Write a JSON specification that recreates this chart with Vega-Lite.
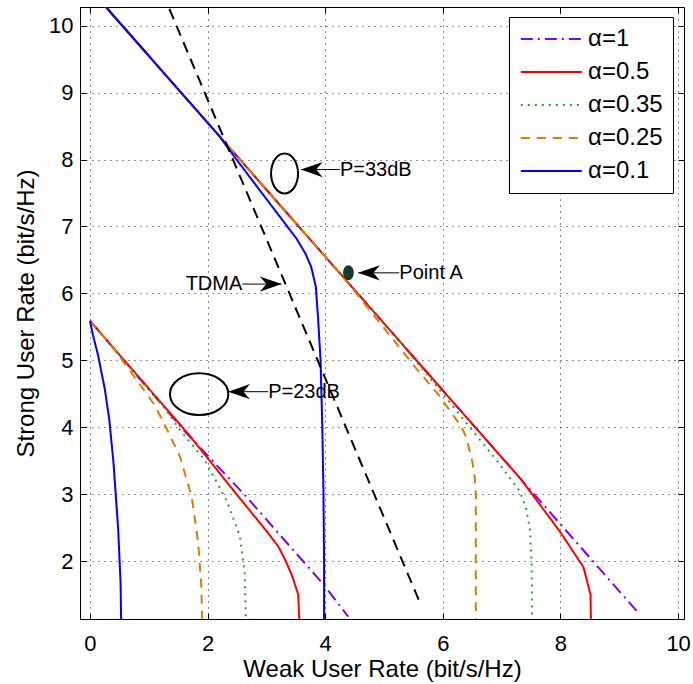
{
  "$schema": "https://vega.github.io/schema/vega-lite/v6.json",
  "width": 604,
  "height": 612,
  "autosize": {"type": "none"},
  "padding": {"left": 80, "top": 7, "right": 9, "bottom": 65},
  "background": "white",
  "config": {
    "view": {"stroke": "black", "strokeWidth": 1},
    "font": "Liberation Sans",
    "axis": {
      "labelFont": "Liberation Sans",
      "titleFont": "Liberation Sans",
      "labelFontSize": 22,
      "titleFontSize": 24,
      "titleFontWeight": "normal",
      "labelColor": "black",
      "titleColor": "black",
      "domainColor": "black",
      "tickColor": "black",
      "tickSize": -6,
      "gridColor": "#222222",
      "gridDash": [1, 5],
      "gridOpacity": 1,
      "gridWidth": 1,
      "format": "d"
    },
    "legend": {
      "orient": "none",
      "legendX": 429,
      "legendY": 10,
      "padding": 10,
      "strokeColor": "black",
      "strokeWidth": 1,
      "fillColor": "white",
      "cornerRadius": 0,
      "labelFont": "Liberation Sans",
      "labelFontSize": 24,
      "labelColor": "black",
      "symbolType": "M-1,0L5,0",
      "symbolSize": 413,
      "symbolStrokeWidth": 2,
      "labelOffset": 45,
      "rowPadding": 9
    }
  },
  "resolve": {"axis": {"x": "independent", "y": "independent"}},
  "datasets": {
    "curves": [
      {"alpha": "α=1", "P": "33dB", "x": 0, "y": 10.55},
      {"alpha": "α=1", "P": "33dB", "x": 9.33, "y": 1.22},
      {"alpha": "α=1", "P": "23dB", "x": 0, "y": 5.59},
      {"alpha": "α=1", "P": "23dB", "x": 1.6, "y": 3.95},
      {"alpha": "α=1", "P": "23dB", "x": 2.66, "y": 2.96},
      {"alpha": "α=1", "P": "23dB", "x": 3.97, "y": 1.65},
      {"alpha": "α=1", "P": "23dB", "x": 4.39, "y": 1.17},

      {"alpha": "α=0.5", "P": "33dB", "x": 0, "y": 10.55},
      {"alpha": "α=0.5", "P": "33dB", "x": 7.34, "y": 3.21},
      {"alpha": "α=0.5", "P": "33dB", "x": 7.99, "y": 2.44},
      {"alpha": "α=0.5", "P": "33dB", "x": 8.39, "y": 1.91},
      {"alpha": "α=0.5", "P": "33dB", "x": 8.51, "y": 1.5},
      {"alpha": "α=0.5", "P": "33dB", "x": 8.53, "y": 0.5},
      {"alpha": "α=0.5", "P": "23dB", "x": 0, "y": 5.59},
      {"alpha": "α=0.5", "P": "23dB", "x": 1.66, "y": 3.91},
      {"alpha": "α=0.5", "P": "23dB", "x": 1.98, "y": 3.56},
      {"alpha": "α=0.5", "P": "23dB", "x": 2.49, "y": 3.0},
      {"alpha": "α=0.5", "P": "23dB", "x": 3.0, "y": 2.45},
      {"alpha": "α=0.5", "P": "23dB", "x": 3.2, "y": 2.22},
      {"alpha": "α=0.5", "P": "23dB", "x": 3.33, "y": 2.0},
      {"alpha": "α=0.5", "P": "23dB", "x": 3.44, "y": 1.77},
      {"alpha": "α=0.5", "P": "23dB", "x": 3.54, "y": 1.5},
      {"alpha": "α=0.5", "P": "23dB", "x": 3.59, "y": 0.5},

      {"alpha": "α=0.35", "P": "33dB", "x": 0, "y": 10.55},
      {"alpha": "α=0.35", "P": "33dB", "x": 5.3, "y": 5.25},
      {"alpha": "α=0.35", "P": "33dB", "x": 5.5, "y": 5.03},
      {"alpha": "α=0.35", "P": "33dB", "x": 6.0, "y": 4.5},
      {"alpha": "α=0.35", "P": "33dB", "x": 6.52, "y": 3.93},
      {"alpha": "α=0.35", "P": "33dB", "x": 6.91, "y": 3.51},
      {"alpha": "α=0.35", "P": "33dB", "x": 7.31, "y": 3.04},
      {"alpha": "α=0.35", "P": "33dB", "x": 7.42, "y": 2.77},
      {"alpha": "α=0.35", "P": "33dB", "x": 7.48, "y": 2.47},
      {"alpha": "α=0.35", "P": "33dB", "x": 7.51, "y": 1.97},
      {"alpha": "α=0.35", "P": "33dB", "x": 7.52, "y": 0.5},
      {"alpha": "α=0.35", "P": "23dB", "x": 0, "y": 5.59},
      {"alpha": "α=0.35", "P": "23dB", "x": 1.0, "y": 4.58},
      {"alpha": "α=0.35", "P": "23dB", "x": 1.25, "y": 4.31},
      {"alpha": "α=0.35", "P": "23dB", "x": 1.53, "y": 3.96},
      {"alpha": "α=0.35", "P": "23dB", "x": 1.95, "y": 3.51},
      {"alpha": "α=0.35", "P": "23dB", "x": 2.32, "y": 2.91},
      {"alpha": "α=0.35", "P": "23dB", "x": 2.55, "y": 2.37},
      {"alpha": "α=0.35", "P": "23dB", "x": 2.63, "y": 1.82},
      {"alpha": "α=0.35", "P": "23dB", "x": 2.67, "y": 0.5},

      {"alpha": "α=0.25", "P": "33dB", "x": 0, "y": 10.55},
      {"alpha": "α=0.25", "P": "33dB", "x": 4.3, "y": 6.25},
      {"alpha": "α=0.25", "P": "33dB", "x": 4.5, "y": 6.03},
      {"alpha": "α=0.25", "P": "33dB", "x": 5.0, "y": 5.48},
      {"alpha": "α=0.25", "P": "33dB", "x": 5.47, "y": 4.96},
      {"alpha": "α=0.25", "P": "33dB", "x": 5.95, "y": 4.46},
      {"alpha": "α=0.25", "P": "33dB", "x": 6.32, "y": 4.0},
      {"alpha": "α=0.25", "P": "33dB", "x": 6.4, "y": 3.84},
      {"alpha": "α=0.25", "P": "33dB", "x": 6.5, "y": 3.49},
      {"alpha": "α=0.25", "P": "33dB", "x": 6.54, "y": 3.26},
      {"alpha": "α=0.25", "P": "33dB", "x": 6.56, "y": 3.0},
      {"alpha": "α=0.25", "P": "33dB", "x": 6.56, "y": 0.5},
      {"alpha": "α=0.25", "P": "23dB", "x": 0, "y": 5.59},
      {"alpha": "α=0.25", "P": "23dB", "x": 0.36, "y": 5.23},
      {"alpha": "α=0.25", "P": "23dB", "x": 0.65, "y": 4.88},
      {"alpha": "α=0.25", "P": "23dB", "x": 1.1, "y": 4.33},
      {"alpha": "α=0.25", "P": "23dB", "x": 1.33, "y": 3.93},
      {"alpha": "α=0.25", "P": "23dB", "x": 1.53, "y": 3.56},
      {"alpha": "α=0.25", "P": "23dB", "x": 1.73, "y": 2.96},
      {"alpha": "α=0.25", "P": "23dB", "x": 1.84, "y": 2.27},
      {"alpha": "α=0.25", "P": "23dB", "x": 1.89, "y": 1.67},
      {"alpha": "α=0.25", "P": "23dB", "x": 1.93, "y": 0.5},

      {"alpha": "α=0.1", "P": "33dB", "x": 0, "y": 10.55},
      {"alpha": "α=0.1", "P": "33dB", "x": 2.2, "y": 8.35},
      {"alpha": "α=0.1", "P": "33dB", "x": 2.44, "y": 8.06},
      {"alpha": "α=0.1", "P": "33dB", "x": 3.0, "y": 7.41},
      {"alpha": "α=0.1", "P": "33dB", "x": 3.51, "y": 6.82},
      {"alpha": "α=0.1", "P": "33dB", "x": 3.66, "y": 6.6},
      {"alpha": "α=0.1", "P": "33dB", "x": 3.76, "y": 6.4},
      {"alpha": "α=0.1", "P": "33dB", "x": 3.84, "y": 6.1},
      {"alpha": "α=0.1", "P": "33dB", "x": 3.88, "y": 5.6},
      {"alpha": "α=0.1", "P": "33dB", "x": 3.92, "y": 5.0},
      {"alpha": "α=0.1", "P": "33dB", "x": 3.95, "y": 4.0},
      {"alpha": "α=0.1", "P": "33dB", "x": 3.97, "y": 3.0},
      {"alpha": "α=0.1", "P": "33dB", "x": 3.98, "y": 2.0},
      {"alpha": "α=0.1", "P": "33dB", "x": 3.98, "y": 0.5},
      {"alpha": "α=0.1", "P": "23dB", "x": 0, "y": 5.59},
      {"alpha": "α=0.1", "P": "23dB", "x": 0.05, "y": 5.38},
      {"alpha": "α=0.1", "P": "23dB", "x": 0.136, "y": 5.08},
      {"alpha": "α=0.1", "P": "23dB", "x": 0.25, "y": 4.58},
      {"alpha": "α=0.1", "P": "23dB", "x": 0.33, "y": 4.1},
      {"alpha": "α=0.1", "P": "23dB", "x": 0.4, "y": 3.46},
      {"alpha": "α=0.1", "P": "23dB", "x": 0.48, "y": 2.46},
      {"alpha": "α=0.1", "P": "23dB", "x": 0.52, "y": 1.67},
      {"alpha": "α=0.1", "P": "23dB", "x": 0.54, "y": 0.5}
    ],
    "tdma": [
      {"x": 1.35, "y": 10.25},
      {"x": 5.59, "y": 1.42}
    ],
    "arrows": [
      {"label": "P=33dB", "tip": 3.587, "tail": 4.25, "y": 7.851, "dir": "left"},
      {"label": "Point A", "tip": 4.56, "tail": 5.26, "y": 6.307, "dir": "left"},
      {"label": "P=23dB", "tip": 2.351, "tail": 3.03, "y": 4.531, "dir": "left"},
      {"label": "TDMA", "tip": 3.257, "tail": 2.59, "y": 6.139, "dir": "right"}
    ]
  },
  "layer": [
    {
      "data": {"name": "curves"},
      "mark": {"type": "line", "clip": true},
      "encoding": {
        "x": {"field": "x", "type": "quantitative",
          "scale": {"domain": [-0.17, 10.1], "nice": false, "zero": false},
          "axis": {"values": [0, 2, 4, 6, 8, 10], "grid": true, "title": "Weak User Rate (bit/s/Hz)", "labelPadding": 20, "titlePadding": 3}},
        "y": {"field": "y", "type": "quantitative",
          "scale": {"domain": [1.134, 10.28], "nice": false, "zero": false},
          "axis": {"values": [2, 3, 4, 5, 6, 7, 8, 9, 10], "grid": true, "title": "Strong User Rate (bit/s/Hz)", "labelPadding": 13, "titlePadding": 10}},
        "color": {"field": "alpha", "type": "nominal",
          "scale": {"domain": ["α=1", "α=0.5", "α=0.35", "α=0.25", "α=0.1"],
                    "range": ["#8000ff", "#ff0000", "#2ca02c", "#e07b00", "#0000ff"]},
          "legend": {"title": null}},
        "strokeDash": {"field": "alpha", "type": "nominal",
          "scale": {"domain": ["α=1", "α=0.5", "α=0.35", "α=0.25", "α=0.1"],
                    "range": [[12, 5, 2, 5], [1, 0], [2, 5], [9, 7], [1, 0]]},
          "legend": {"title": null}},
        "strokeWidth": {"field": "alpha", "type": "nominal",
          "scale": {"domain": ["α=1", "α=0.5", "α=0.35", "α=0.25", "α=0.1"],
                    "range": [2, 2, 1.6, 1.5, 2]},
          "legend": null},
        "detail": {"field": "P"},
        "order": {"field": "y", "sort": "descending"}
      }
    },
    {
      "data": {"name": "tdma"},
      "mark": {"type": "line", "color": "black", "strokeWidth": 2, "strokeDash": [11, 7], "clip": true},
      "encoding": {
        "x": {"field": "x", "type": "quantitative",
          "axis": {"orient": "top", "values": [0, 2, 4, 6, 8, 10], "labels": false, "grid": false, "title": null, "domain": false}},
        "y": {"field": "y", "type": "quantitative",
          "axis": {"orient": "right", "values": [2, 3, 4, 5, 6, 7, 8, 9, 10], "labels": false, "grid": false, "title": null, "domain": false}}
      }
    },
    {
      "data": {"values": [{"x": 3.308, "y": 7.791}]},
      "mark": {"type": "point", "shape": "M0,-1.48C0.5523,-1.48,1,-0.8174,1,0C1,0.8174,0.5523,1.48,0,1.48C-0.5523,1.48,-1,0.8174,-1,0C-1,-0.8174,-0.5523,-1.48,0,-1.48Z", "filled": false, "stroke": "black", "strokeWidth": 2, "size": 729, "opacity": 1},
      "encoding": {
        "x": {"field": "x", "type": "quantitative", "axis": null},
        "y": {"field": "y", "type": "quantitative", "axis": null}
      }
    },
    {
      "data": {"values": [{"x": 1.856, "y": 4.494}]},
      "mark": {"type": "point", "shape": "M0,-0.715C0.5523,-0.715,1,-0.395,1,0C1,0.395,0.5523,0.715,0,0.715C-0.5523,0.715,-1,0.395,-1,0C-1,-0.395,-0.5523,-0.715,0,-0.715Z", "filled": false, "stroke": "black", "strokeWidth": 2, "size": 3400, "opacity": 1},
      "encoding": {
        "x": {"field": "x", "type": "quantitative", "axis": null},
        "y": {"field": "y", "type": "quantitative", "axis": null}
      }
    },
    {
      "data": {"values": [{"x": 4.394, "y": 6.31}]},
      "mark": {"type": "point", "shape": "M0,-1.4C0.5523,-1.4,1,-0.7732,1,0C1,0.7732,0.5523,1.4,0,1.4C-0.5523,1.4,-1,0.7732,-1,0C-1,-0.7732,-0.5523,-1.4,0,-1.4Z", "filled": true, "fill": "#173b27", "stroke": null, "size": 114, "opacity": 1},
      "encoding": {
        "x": {"field": "x", "type": "quantitative", "axis": null},
        "y": {"field": "y", "type": "quantitative", "axis": null}
      }
    },
    {
      "data": {"name": "arrows"},
      "mark": {"type": "rule", "color": "black", "strokeWidth": 1},
      "encoding": {
        "x": {"field": "tip", "type": "quantitative", "axis": null},
        "x2": {"field": "tail"},
        "y": {"field": "y", "type": "quantitative", "axis": null}
      }
    },
    {
      "data": {"name": "arrows"},
      "mark": {"type": "point", "filled": true, "fill": "black", "stroke": null, "size": 471, "opacity": 1},
      "encoding": {
        "x": {"field": "tip", "type": "quantitative", "axis": null},
        "y": {"field": "y", "type": "quantitative", "axis": null},
        "shape": {"field": "dir", "type": "nominal",
          "scale": {"domain": ["left", "right"], "range": ["M0,0L2,-0.7L1.4,0L2,0.7Z", "M0,0L-2,-0.7L-1.4,0L-2,0.7Z"]},
          "legend": null}
      }
    },
    {
      "data": {"name": "arrows"},
      "transform": [{"filter": "datum.dir === 'left'"}],
      "mark": {"type": "text", "align": "left", "baseline": "middle", "font": "Liberation Sans", "fontSize": 20, "color": "black"},
      "encoding": {
        "x": {"field": "tail", "type": "quantitative", "axis": null},
        "y": {"field": "y", "type": "quantitative", "axis": null},
        "text": {"field": "label"}
      }
    },
    {
      "data": {"name": "arrows"},
      "transform": [{"filter": "datum.dir === 'right'"}],
      "mark": {"type": "text", "align": "right", "baseline": "middle", "font": "Liberation Sans", "fontSize": 20, "color": "black"},
      "encoding": {
        "x": {"field": "tail", "type": "quantitative", "axis": null},
        "y": {"field": "y", "type": "quantitative", "axis": null},
        "text": {"field": "label"}
      }
    }
  ]
}
